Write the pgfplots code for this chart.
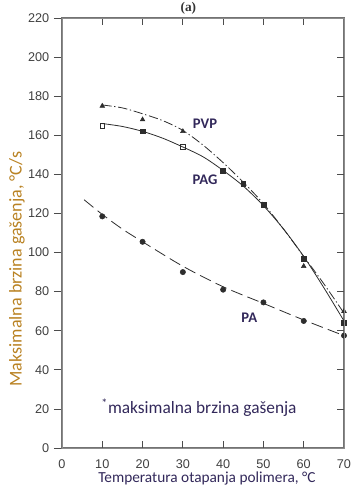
\documentclass[border=0pt]{standalone}
\usepackage{pgfplots}
\pgfplotsset{compat=1.18}
\usepackage{fontspec}
\setmainfont{Carlito}
\newfontfamily\arialf{Liberation Sans}
\newfontfamily\serf{Liberation Serif}
\definecolor{ylab}{RGB}{185,130,35}
\definecolor{txt}{RGB}{50,40,90}
\definecolor{crv}{RGB}{45,45,45}

\begin{document}
\begin{tikzpicture}
  \begin{axis}[
    at={(0,0)}, anchor=south west,
    scale only axis,
    width=211.5pt, height=322.5pt,
    xmin=0, xmax=70, ymin=0, ymax=220,
    xtick={0,10,...,70},
    ytick={0,20,...,220},
    ytick pos=left,
    tick align=outside,
    major tick length=6pt,
    xtick style={draw=none},
    ytick style={black!70, line width=0.6pt},
    axis line style={black!55, line width=0.8pt},
    tick label style={font=\arialf\fontsize{9.5}{10}\selectfont, color=black!75},
    /pgf/number format/assume math mode=true,
    xticklabel style={yshift=1pt},
    xlabel={Temperatura otapanja polimera, °C},
    ylabel={Maksimalna brzina gašenja, °C/s},
    every axis x label/.style={at={(axis description cs:0.514,-0.07)}, anchor=center,
      font=\fontsize{11.5}{12}\selectfont, color=txt},
    every axis y label/.style={at={(axis description cs:-0.16,0.416)}, anchor=center, rotate=90,
      font=\fontsize{13.5}{14}\selectfont, color=ylab},
    clip=false,
  ]
  % PVP curve (dash-dot)
  \addplot[crv, line width=0.6pt, smooth, dash pattern=on 7pt off 2pt on 1pt off 2pt] coordinates {
    (10,175.5)(15,174)(20,171)(25,167.5)(30,162.5)(35,155)(40,146)(45,136)(50,125)(55,112)(60,98)(65,84)(70,69)};
  \addplot[crv, only marks, mark=triangle*, mark size=2pt] coordinates {
    (10,175)(20,168)(30,162)(60,93)(70,70)};
  % PAG curve (solid)
  \addplot[crv, line width=0.6pt, smooth] coordinates {
    (10,166)(15,164.5)(20,162)(25,158.5)(30,154)(35,149)(40,142)(45,134)(50,124)(55,112)(60,98)(65,82)(70,65)};
  \addplot[crv, only marks, mark=square*, mark size=1.8pt] coordinates {
    (20,162)(40,142)(45,135)(50,124.5)(60,97)(70,64)};
  \addplot[crv, only marks, mark=square, mark size=1.8pt] coordinates {
    (10,165)(30,154)};
  % PA curve (dashed)
  \addplot[crv, line width=0.6pt, smooth, dash pattern=on 9pt off 4pt] coordinates {
    (5.5,127)(10,119.5)(15,112)(20,105.5)(30,93)(40,82.5)(50,74)(60,65.5)(70,57.5)};
  \addplot[crv, only marks, mark=*, mark size=2pt] coordinates {
    (10,118.5)(20,105.5)(30,90)(40,81)(50,74.5)(60,65)(70,57.5)};

  \node[font=\bfseries\fontsize{11}{12}\selectfont, color=txt] at (axis cs:35.5,166) {PVP};
  \node[font=\bfseries\fontsize{11}{12}\selectfont, color=txt] at (axis cs:35.5,137) {PAG};
  \node[font=\bfseries\fontsize{11}{12}\selectfont, color=txt] at (axis cs:46.5,66.5) {PA};
  \node[font=\fontsize{13}{14}\selectfont, color=txt] at (axis cs:34,20.5) {\textsuperscript{*}maksimalna brzina gašenja};
  \node[font=\serf\bfseries\fontsize{10}{11}\selectfont, color=black!80, anchor=south, inner sep=0pt] at (rel axis cs:0.448,1.008) {(a)};
  \end{axis}
  \begin{axis}[
    at={(0,0)}, anchor=south west,
    scale only axis,
    width=211.5pt, height=322.5pt,
    xmin=0, xmax=70, ymin=0, ymax=220,
    xtick={10,20,...,60},
    ytick={20,40,...,200},
    ytick pos=right,
    xtick pos=both,
    tick align=inside,
    major tick length=5pt,
    tick style={black!70, line width=0.6pt},
    axis line style={black!45, line width=0.6pt},
    xticklabels={}, yticklabels={},
  ]
  \end{axis}
  \pgfresetboundingbox
  \path[use as bounding box] (-46.5pt,-30.75pt) rectangle (217.5pt,336pt);
\end{tikzpicture}
\end{document}
